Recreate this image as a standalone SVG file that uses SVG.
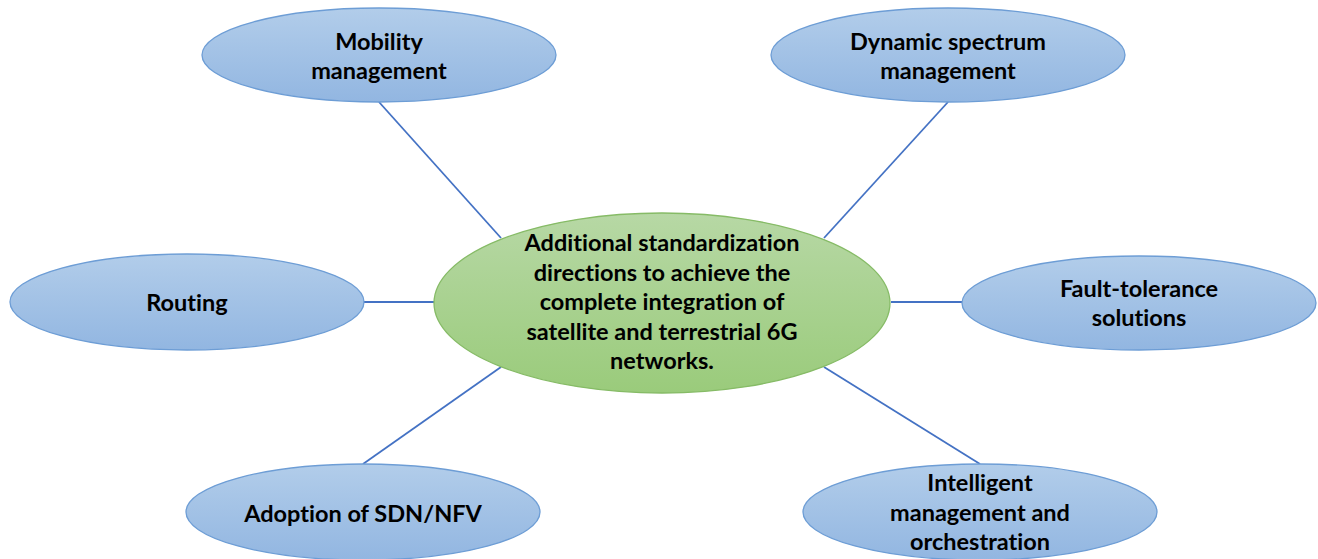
<svg xmlns="http://www.w3.org/2000/svg" width="1318" height="559" viewBox="0 0 1318 559">
<defs>
<linearGradient id="gBlue" x1="0" y1="0" x2="0" y2="1">
<stop offset="0" stop-color="#b2cdea"/>
<stop offset="1" stop-color="#92b6e1"/>
</linearGradient>
<linearGradient id="gGreen" x1="0" y1="0" x2="0" y2="1">
<stop offset="0" stop-color="#b7d8a5"/>
<stop offset="1" stop-color="#9acb7b"/>
</linearGradient>
<style>
.blue{fill:url(#gBlue);stroke:#6d9dd5;stroke-width:1.3}
.green{fill:url(#gGreen);stroke:#86bb66;stroke-width:1.3}
.t{font-family:Lato,"Liberation Sans",sans-serif;font-weight:bold;font-size:23.5px;fill:#000;text-anchor:middle;dominant-baseline:central;font-variant-ligatures:none;font-feature-settings:"liga" 0,"dlig" 0}
.c line{stroke:#4472c4;stroke-width:1.8}
</style>
</defs>
<g class="c" id="connectors">
<line x1="379" y1="102" x2="501" y2="238"/>
<line x1="948" y1="102" x2="824" y2="238"/>
<line x1="363" y1="302" x2="434" y2="302"/>
<line x1="891" y1="302" x2="962" y2="302"/>
<line x1="501" y1="367" x2="363" y2="464"/>
<line x1="824" y1="367" x2="980" y2="464"/>
</g>
<g id="center">
<ellipse class="green" cx="662" cy="303" rx="228" ry="90"/>
<text class="t"><tspan x="662" y="242">Additional standardization</tspan><tspan x="662" y="271.5">directions to achieve the</tspan><tspan x="662" y="301">complete integration of</tspan><tspan x="662" y="330.5">satellite and terrestrial 6G</tspan><tspan x="662" y="360">networks.</tspan></text>
</g>
<g id="mobility">
<ellipse class="blue" cx="379" cy="55" rx="177" ry="47"/>
<text class="t"><tspan x="379" y="41">Mobility</tspan><tspan x="379" y="70">management</tspan></text>
</g>
<g id="spectrum">
<ellipse class="blue" cx="948" cy="55" rx="177" ry="47"/>
<text class="t"><tspan x="948" y="41">Dynamic spectrum</tspan><tspan x="948" y="70">management</tspan></text>
</g>
<g id="routing">
<ellipse class="blue" cx="187" cy="302" rx="177" ry="48"/>
<text class="t" x="187" y="302">Routing</text>
</g>
<g id="fault">
<ellipse class="blue" cx="1139" cy="303" rx="177" ry="47"/>
<text class="t"><tspan x="1139" y="288">Fault-tolerance</tspan><tspan x="1139" y="317">solutions</tspan></text>
</g>
<g id="sdn">
<ellipse class="blue" cx="363" cy="512" rx="177" ry="48"/>
<text class="t" x="363" y="513">Adoption of SDN/NFV</text>
</g>
<g id="intelligent">
<ellipse class="blue" cx="980" cy="512" rx="177" ry="48"/>
<text class="t"><tspan x="980" y="482">Intelligent</tspan><tspan x="980" y="511.5">management and</tspan><tspan x="980" y="541">orchestration</tspan></text>
</g>
</svg>
